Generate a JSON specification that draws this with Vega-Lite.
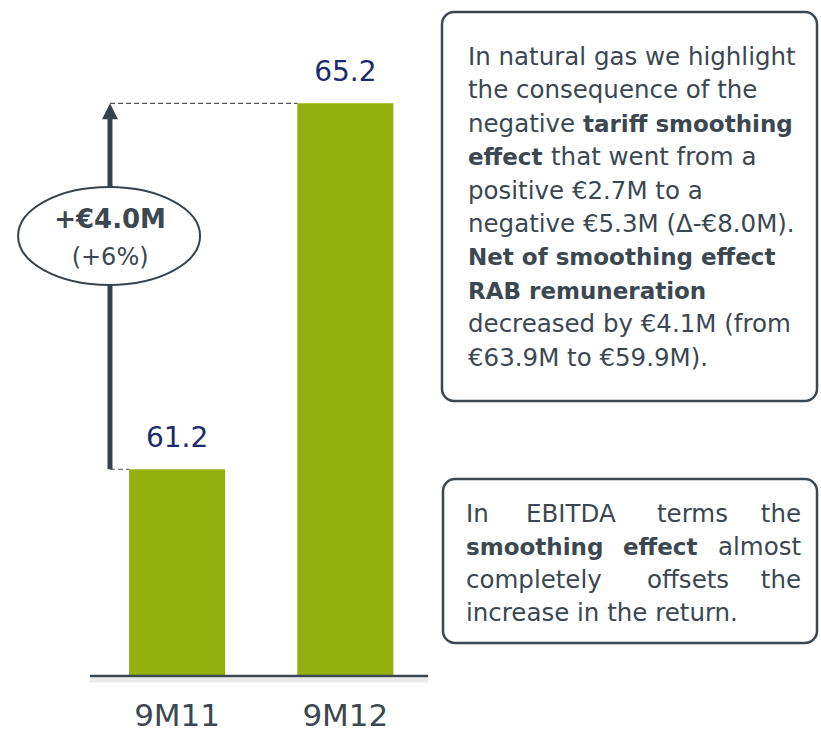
{
  "$schema": "https://vega.github.io/schema/vega-lite/v6.json",
  "width": 821,
  "height": 676,
  "autosize": {"type": "none"},
  "padding": {"left": 0, "top": 0, "right": 0, "bottom": 58},
  "background": "white",
  "config": {"view": {"stroke": null}, "text": {"font": "DejaVu Sans"}, "axis": {"disable": true}},
  "datasets": {
    "bars": [
      {"period": "9M11", "value": 61.2},
      {"period": "9M12", "value": 65.2}
    ]
  },
  "layer": [
    {
      "layer": [
        {
          "data": {"name": "bars"},
          "mark": {"type": "bar", "color": "#94b00c"},
          "encoding": {
            "x": {
              "field": "period",
              "type": "nominal",
              "scale": {"type": "band", "range": [90, 428], "paddingInner": 0.429, "paddingOuter": 0.219, "align": 0.53},
              "axis": null
            },
            "y": {
              "field": "value",
              "type": "quantitative",
              "scale": {"domain": [58.94, 66.33], "zero": false, "nice": false},
              "axis": null
            },
            "y2": {"datum": 58.94}
          }
        },
        {
          "data": {"name": "bars"},
          "mark": {"type": "text", "dy": -22, "baseline": "alphabetic", "fontSize": 28, "color": "#1a2b6d", "font": "DejaVu Sans"},
          "encoding": {
            "x": {"field": "period", "type": "nominal", "axis": null},
            "y": {"field": "value", "type": "quantitative", "axis": null},
            "text": {"field": "value", "type": "quantitative", "format": ".1f"}
          }
        },
        {
          "data": {"name": "bars"},
          "mark": {"type": "text", "dy": 50, "baseline": "alphabetic", "fontSize": 31, "color": "#3b4751", "font": "DejaVu Sans"},
          "encoding": {
            "x": {"field": "period", "type": "nominal", "axis": null},
            "y": {"datum": 58.94, "type": "quantitative", "axis": null},
            "text": {"field": "period", "type": "nominal"}
          }
        },
        {
          "data": {"values": [{}]},
          "mark": {"type": "rule", "strokeDash": [5, 3], "strokeWidth": 1.2, "color": "#555555", "xOffset": -67.1, "x2Offset": -48},
          "encoding": {
            "x": {"datum": "9M11", "type": "nominal", "axis": null},
            "x2": {"datum": "9M12"},
            "y": {"datum": 65.2, "type": "quantitative", "axis": null}
          }
        },
        {
          "data": {"values": [{}]},
          "mark": {"type": "rule", "strokeDash": [5, 3], "strokeWidth": 1.2, "color": "#555555", "xOffset": -67.1, "x2Offset": -48},
          "encoding": {
            "x": {"datum": "9M11", "type": "nominal", "axis": null},
            "x2": {"datum": "9M11"},
            "y": {"datum": 61.2, "type": "quantitative", "axis": null}
          }
        },
        {
          "data": {"values": [{}]},
          "mark": {"type": "rule", "color": "#36434c", "strokeWidth": 5, "xOffset": -67.1, "y2Offset": 12},
          "encoding": {
            "x": {"datum": "9M11", "type": "nominal", "axis": null},
            "y": {"datum": 61.2, "type": "quantitative", "axis": null},
            "y2": {"datum": 65.2}
          }
        },
        {
          "data": {"values": [{}]},
          "mark": {"type": "point", "shape": "M 0 -1 L 1 1 L -1 1 Z", "size": 256, "filled": true, "color": "#36434c", "opacity": 1, "strokeWidth": 0, "xOffset": -67.1, "yOffset": 8},
          "encoding": {
            "x": {"datum": "9M11", "type": "nominal", "axis": null},
            "y": {"datum": 65.2, "type": "quantitative", "axis": null}
          }
        },
        {
          "data": {"values": [{}]},
          "mark": {
            "type": "point",
            "shape": "M -1 0 C -1 -0.297 -0.552 -0.538 0 -0.538 C 0.552 -0.538 1 -0.297 1 0 C 1 0.297 0.552 0.538 0 0.538 C -0.552 0.538 -1 0.297 -1 0 Z",
            "size": 33124,
            "filled": true,
            "fill": "white",
            "stroke": "#36434c",
            "strokeWidth": 2,
            "opacity": 1,
            "xOffset": -68
          },
          "encoding": {
            "x": {"datum": "9M11", "type": "nominal", "axis": null},
            "y": {"datum": 63.75, "type": "quantitative", "axis": null}
          }
        },
        {
          "data": {"values": [{}]},
          "mark": {"type": "text", "font": "DejaVu Sans", "fontWeight": "bold", "fontSize": 26, "color": "#3b4751", "baseline": "alphabetic", "dy": -8, "xOffset": -67},
          "encoding": {
            "x": {"datum": "9M11", "type": "nominal", "axis": null},
            "y": {"datum": 63.75, "type": "quantitative", "axis": null},
            "text": {"value": "+€4.0M"}
          }
        },
        {
          "data": {"values": [{}]},
          "mark": {"type": "text", "font": "DejaVu Sans", "fontSize": 24, "color": "#3b4751", "baseline": "alphabetic", "dy": 29, "xOffset": -67},
          "encoding": {
            "x": {"datum": "9M11", "type": "nominal", "axis": null},
            "y": {"datum": 63.75, "type": "quantitative", "axis": null},
            "text": {"value": "(+6%)"}
          }
        }
      ]
    },
    {
      "data": {"values": [{}]},
      "layer": [
        {
          "mark": {"type": "rule", "color": "#000000", "opacity": 0.08, "strokeWidth": 5},
          "encoding": {
            "x": {"datum": 90, "type": "quantitative", "scale": {"domain": [0, 821], "range": [0, 821], "nice": false, "zero": false}, "axis": null},
            "x2": {"datum": 428},
            "y": {"datum": 680, "type": "quantitative", "scale": {"domain": [0, 676], "range": [0, 676], "nice": false, "zero": false}, "axis": null}
          }
        },
        {
          "mark": {"type": "rule", "color": "#3b4751", "strokeWidth": 2.5},
          "encoding": {
            "x": {"datum": 90, "type": "quantitative", "axis": null},
            "x2": {"datum": 428},
            "y": {"datum": 676, "type": "quantitative", "axis": null}
          }
        },
        {
          "mark": {"type": "rect", "cornerRadius": 12, "fill": "white", "stroke": "#3b4751", "strokeWidth": 2.5},
          "encoding": {
            "x": {"datum": 442, "type": "quantitative", "axis": null},
            "x2": {"datum": 817},
            "y": {"datum": 12, "type": "quantitative", "axis": null},
            "y2": {"datum": 401}
          }
        },
        {
          "mark": {"type": "rect", "cornerRadius": 12, "fill": "white", "stroke": "#3b4751", "strokeWidth": 2.5},
          "encoding": {
            "x": {"datum": 443, "type": "quantitative", "axis": null},
            "x2": {"datum": 817},
            "y": {"datum": 479, "type": "quantitative", "axis": null},
            "y2": {"datum": 643}
          }
        },
        {
          "mark": {"type": "text", "align": "left", "baseline": "alphabetic", "font": "DejaVu Sans", "fontSize": 24.5, "lineHeight": 33.4, "color": "#3b4751"},
          "encoding": {
            "x": {"datum": 468, "type": "quantitative", "axis": null},
            "y": {"datum": 65, "type": "quantitative", "axis": null},
            "text": {"value": ["In natural gas we highlight", "the consequence of the", "negative"]}
          }
        },
        {
          "mark": {"type": "text", "align": "left", "baseline": "alphabetic", "font": "DejaVu Sans", "fontSize": 24.5, "lineHeight": 33.4, "color": "#3b4751"},
          "encoding": {
            "x": {"datum": 468, "type": "quantitative", "axis": null},
            "y": {"datum": 198.6, "type": "quantitative", "axis": null},
            "text": {"value": ["positive €2.7M to a", "negative €5.3M (Δ-€8.0M)."]}
          }
        },
        {
          "mark": {"type": "text", "align": "left", "baseline": "alphabetic", "font": "DejaVu Sans", "fontSize": 24.5, "lineHeight": 33.4, "color": "#3b4751"},
          "encoding": {
            "x": {"datum": 468, "type": "quantitative", "axis": null},
            "y": {"datum": 332.2, "type": "quantitative", "axis": null},
            "text": {"value": ["decreased by €4.1M (from", "€63.9M to €59.9M)."]}
          }
        },
        {
          "mark": {"type": "text", "align": "left", "baseline": "alphabetic", "font": "DejaVu Sans", "fontWeight": "bold", "fontSize": 23, "color": "#3b4751"},
          "encoding": {
            "x": {"datum": 468, "type": "quantitative", "axis": null},
            "y": {"datum": 165.2, "type": "quantitative", "axis": null},
            "text": {"value": "effect"}
          }
        },
        {
          "mark": {"type": "text", "align": "left", "baseline": "alphabetic", "font": "DejaVu Sans", "fontWeight": "bold", "fontSize": 23, "lineHeight": 33.4, "color": "#3b4751"},
          "encoding": {
            "x": {"datum": 468, "type": "quantitative", "axis": null},
            "y": {"datum": 265.4, "type": "quantitative", "axis": null},
            "text": {"value": ["Net of smoothing effect", "RAB remuneration"]}
          }
        },
        {
          "mark": {"type": "text", "align": "left", "baseline": "alphabetic", "font": "DejaVu Sans", "fontWeight": "bold", "fontSize": 23, "color": "#3b4751"},
          "encoding": {
            "x": {"datum": 583, "type": "quantitative", "axis": null},
            "y": {"datum": 131.8, "type": "quantitative", "axis": null},
            "text": {"value": "tariff smoothing"}
          }
        },
        {
          "mark": {"type": "text", "align": "left", "baseline": "alphabetic", "font": "DejaVu Sans", "fontSize": 24.5, "color": "#3b4751"},
          "encoding": {
            "x": {"datum": 551, "type": "quantitative", "axis": null},
            "y": {"datum": 165.2, "type": "quantitative", "axis": null},
            "text": {"value": "that went from a"}
          }
        },
        {
          "mark": {"type": "text", "align": "left", "baseline": "alphabetic", "font": "DejaVu Sans", "fontSize": 24.5, "color": "#3b4751"},
          "encoding": {
            "x": {"datum": 466, "type": "quantitative", "axis": null},
            "y": {"datum": 522, "type": "quantitative", "axis": null},
            "text": {"value": "In"}
          }
        },
        {
          "mark": {"type": "text", "align": "left", "baseline": "alphabetic", "font": "DejaVu Sans", "fontSize": 24.5, "lineHeight": 33, "color": "#3b4751"},
          "encoding": {
            "x": {"datum": 466, "type": "quantitative", "axis": null},
            "y": {"datum": 588, "type": "quantitative", "axis": null},
            "text": {"value": ["completely", "increase in the return."]}
          }
        },
        {
          "mark": {"type": "text", "align": "left", "baseline": "alphabetic", "font": "DejaVu Sans", "fontWeight": "bold", "fontSize": 23, "color": "#3b4751"},
          "encoding": {
            "x": {"datum": 466, "type": "quantitative", "axis": null},
            "y": {"datum": 555, "type": "quantitative", "axis": null},
            "text": {"value": "smoothing"}
          }
        },
        {
          "mark": {"type": "text", "align": "right", "baseline": "alphabetic", "font": "DejaVu Sans", "fontSize": 24.5, "lineHeight": 33, "color": "#3b4751"},
          "encoding": {
            "x": {"datum": 801, "type": "quantitative", "axis": null},
            "y": {"datum": 522, "type": "quantitative", "axis": null},
            "text": {"value": ["the", "almost", "the"]}
          }
        },
        {
          "mark": {"type": "text", "align": "left", "baseline": "alphabetic", "font": "DejaVu Sans", "fontSize": 24.5, "color": "#3b4751"},
          "encoding": {
            "x": {"datum": 526, "type": "quantitative", "axis": null},
            "y": {"datum": 522, "type": "quantitative", "axis": null},
            "text": {"value": "EBITDA"}
          }
        },
        {
          "mark": {"type": "text", "align": "left", "baseline": "alphabetic", "font": "DejaVu Sans", "fontSize": 24.5, "color": "#3b4751"},
          "encoding": {
            "x": {"datum": 657, "type": "quantitative", "axis": null},
            "y": {"datum": 522, "type": "quantitative", "axis": null},
            "text": {"value": "terms"}
          }
        },
        {
          "mark": {"type": "text", "align": "left", "baseline": "alphabetic", "font": "DejaVu Sans", "fontWeight": "bold", "fontSize": 23, "color": "#3b4751"},
          "encoding": {
            "x": {"datum": 623, "type": "quantitative", "axis": null},
            "y": {"datum": 555, "type": "quantitative", "axis": null},
            "text": {"value": "effect"}
          }
        },
        {
          "mark": {"type": "text", "align": "left", "baseline": "alphabetic", "font": "DejaVu Sans", "fontSize": 24.5, "color": "#3b4751"},
          "encoding": {
            "x": {"datum": 647, "type": "quantitative", "axis": null},
            "y": {"datum": 588, "type": "quantitative", "axis": null},
            "text": {"value": "offsets"}
          }
        }
      ]
    }
  ],
  "resolve": {"scale": {"x": "independent", "y": "independent"}}
}
